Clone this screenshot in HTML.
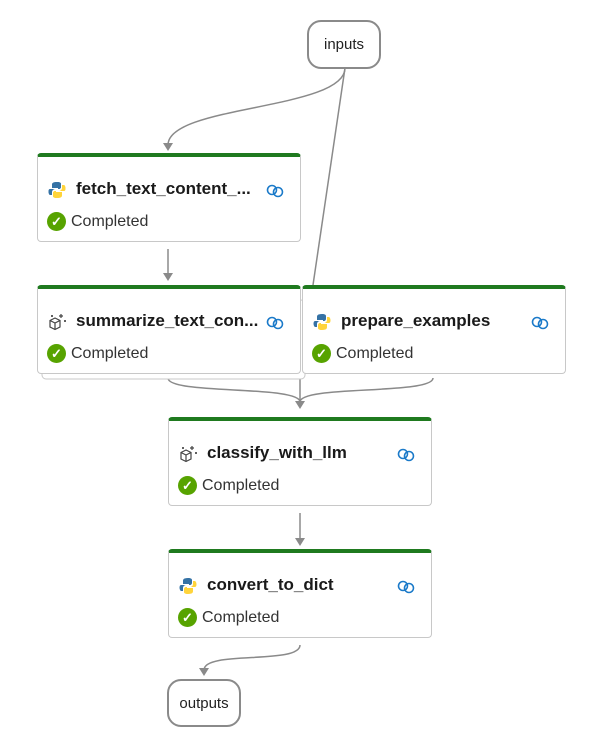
<!DOCTYPE html>
<html><head><style>
body{margin:0;width:600px;height:744px;background:#fff;font-family:"Liberation Sans",sans-serif;position:relative;overflow:hidden}
.pill{position:absolute;border:2px solid #8a8a8a;border-radius:14px;box-sizing:border-box;display:flex;align-items:center;justify-content:center;font-size:15px;color:#222;background:#fff}
.node{position:absolute;width:264px;height:89px;box-sizing:border-box;border:1px solid #c8c8c8;border-top:4px solid #1f7a1f;border-radius:4px;background:#fff}
.t{position:absolute;left:38px;top:22px;font-size:17px;font-weight:bold;color:#1a1a1a}
.ic{position:absolute;left:10px;top:24px}
.lk{position:absolute;right:16px;top:27px}
.st{position:absolute;left:9px;top:55px;font-size:16px;color:#333;display:flex;align-items:center}
.ck{width:19px;height:19px;border-radius:50%;background:#57a300;color:#fff;font-size:13px;display:inline-flex;align-items:center;justify-content:center;margin-right:5px;font-weight:bold}
</style></head><body>
<svg width="600" height="744" style="position:absolute;left:0;top:0" fill="none" stroke="#8a8a8a" stroke-width="1.5">
<defs>
<g id="py"><path d="M9 1C4 1 4 3 4 4v3h6v1H2C0 8 0 13 2 14h2v-3c0-2 2-3 3-3h4c1 0 2-1 2-2V3c0-1-1-2-4-2z" fill="#3572a5" stroke="none"/><path d="M9 17c5 0 5-2 5-3v-3H8v-1h8c2 0 2-5 0-6h-2v3c0 2-2 3-3 3H7c-1 0-2 1-2 2v3c0 1 1 2 4 2z" fill="#ffd43b" stroke="none"/></g>
</defs>
<path d="M345 68 C345 110 168 105 168 145"/>
<path d="M345 68 L313 285"/>
<path d="M300 374 L300 402"/>
<path d="M168 378 C168 395 300 385 300 402"/>
<path d="M433 378 C433 395 300 385 300 402"/>
<path d="M168 249 L168 275"/>
<path d="M300 513 L300 540"/>
<path d="M300 645 C300 665 204 650 204 670"/>
<g fill="#8a8a8a" stroke="none">
<path d="M163 143 L173 143 L168 151Z"/><path d="M163 273 L173 273 L168 281Z"/>
<path d="M295 401 L305 401 L300 409Z"/><path d="M295 538 L305 538 L300 546Z"/>
<path d="M199 668 L209 668 L204 676Z"/>
</g>
<rect x="42" y="300" width="263" height="79" rx="4" stroke="#c8c8c8" stroke-width="1" fill="#fff"/>
</svg>
<div class="pill" style="left:307px;top:20px;width:74px;height:49px">inputs</div>
<div class="pill" style="left:167px;top:679px;width:74px;height:48px">outputs</div>

<div class="node" style="left:37px;top:153px"><span class="ic"><svg width="18" height="18"><use href="#py"/><path d="M9 1C4 1 4 3 4 4v3h6v1H2C0 8 0 13 2 14h2v-3c0-2 2-3 3-3h4c1 0 2-1 2-2V3c0-1-1-2-4-2z" fill="#3572a5"/><path d="M9 17c5 0 5-2 5-3v-3H8v-1h8c2 0 2-5 0-6h-2v3c0 2-2 3-3 3H7c-1 0-2 1-2 2v3c0 1 1 2 4 2z" fill="#ffd43b"/></svg></span><span class="t">fetch_text_content_...</span><span class="lk"><svg width="18" height="14" fill="none" stroke="#1b7ac9" stroke-width="1.6"><circle cx="6" cy="6" r="4.5"/><circle cx="12" cy="8" r="4.5"/></svg></span><div class="st"><span class="ck">✓</span>Completed</div></div>

<div class="node" style="left:37px;top:285px"><span class="ic"><svg width="20" height="18" fill="none" stroke="#444" stroke-width="1.2"><path d="M7 5 L12 7.5 L12 14 L7 16.5 L2 14 L2 7.5Z M2 7.5 L7 10 L12 7.5 M7 10 V16.5"/><path d="M13 1v4M11 3h4M17 7v2M16 8h2M4 2v2M3 3h2"/></svg></span><span class="t">summarize_text_con...</span><span class="lk"><svg width="18" height="14" fill="none" stroke="#1b7ac9" stroke-width="1.6"><circle cx="6" cy="6" r="4.5"/><circle cx="12" cy="8" r="4.5"/></svg></span><div class="st"><span class="ck">✓</span>Completed</div></div>

<div class="node" style="left:302px;top:285px"><span class="ic"><svg width="18" height="18"><path d="M9 1C4 1 4 3 4 4v3h6v1H2C0 8 0 13 2 14h2v-3c0-2 2-3 3-3h4c1 0 2-1 2-2V3c0-1-1-2-4-2z" fill="#3572a5"/><path d="M9 17c5 0 5-2 5-3v-3H8v-1h8c2 0 2-5 0-6h-2v3c0 2-2 3-3 3H7c-1 0-2 1-2 2v3c0 1 1 2 4 2z" fill="#ffd43b"/></svg></span><span class="t">prepare_examples</span><span class="lk"><svg width="18" height="14" fill="none" stroke="#1b7ac9" stroke-width="1.6"><circle cx="6" cy="6" r="4.5"/><circle cx="12" cy="8" r="4.5"/></svg></span><div class="st"><span class="ck">✓</span>Completed</div></div>

<div class="node" style="left:168px;top:417px"><span class="ic"><svg width="20" height="18" fill="none" stroke="#444" stroke-width="1.2"><path d="M7 5 L12 7.5 L12 14 L7 16.5 L2 14 L2 7.5Z M2 7.5 L7 10 L12 7.5 M7 10 V16.5"/><path d="M13 1v4M11 3h4M17 7v2M16 8h2M4 2v2M3 3h2"/></svg></span><span class="t">classify_with_llm</span><span class="lk"><svg width="18" height="14" fill="none" stroke="#1b7ac9" stroke-width="1.6"><circle cx="6" cy="6" r="4.5"/><circle cx="12" cy="8" r="4.5"/></svg></span><div class="st"><span class="ck">✓</span>Completed</div></div>

<div class="node" style="left:168px;top:549px"><span class="ic"><svg width="18" height="18"><path d="M9 1C4 1 4 3 4 4v3h6v1H2C0 8 0 13 2 14h2v-3c0-2 2-3 3-3h4c1 0 2-1 2-2V3c0-1-1-2-4-2z" fill="#3572a5"/><path d="M9 17c5 0 5-2 5-3v-3H8v-1h8c2 0 2-5 0-6h-2v3c0 2-2 3-3 3H7c-1 0-2 1-2 2v3c0 1 1 2 4 2z" fill="#ffd43b"/></svg></span><span class="t">convert_to_dict</span><span class="lk"><svg width="18" height="14" fill="none" stroke="#1b7ac9" stroke-width="1.6"><circle cx="6" cy="6" r="4.5"/><circle cx="12" cy="8" r="4.5"/></svg></span><div class="st"><span class="ck">✓</span>Completed</div></div>
</body></html>
